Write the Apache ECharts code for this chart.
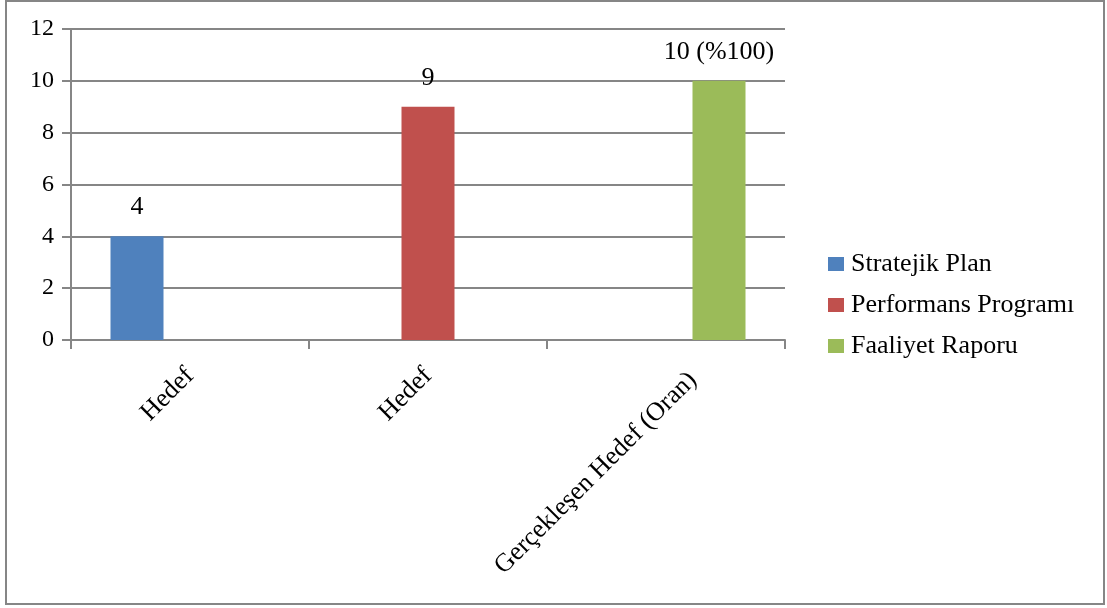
<!DOCTYPE html>
<html>
<head>
<meta charset="utf-8">
<script src="https://cdn.jsdelivr.net/npm/echarts@6/dist/echarts.min.js"></script>
<style>
  html, body { margin: 0; padding: 0; background: #fff; }
  #chart { width: 1107px; height: 608px; }
</style>
</head>
<body>
<div id="chart"></div>
<script>
// Categories along the x axis
const categories = ['Hedef', 'Hedef', 'Gerçekleşen Hedef (Oran)'];
// One value per series, placed in its own category
const seriesNames = ['Stratejik Plan', 'Performans Programı', 'Faaliyet Raporu'];
const stratejikPlan = [4, null, null];
const performansProgrami = [null, 9, null];
const faaliyetRaporu = [null, null, 10];
// Text shown above each bar
const barLabels = ['4', '9', '10 (%100)'];
const seriesColors = ['#4F81BD', '#C0504D', '#9BBB59'];

const FONT = '"Liberation Serif", "DejaVu Serif", serif';
const GRAY = '#868686';

// The long category name sits a little further along and below its slant
const labelPadding = [0, 0, [0, -16, 0, 0]];
const longLabelIndex = 2;

const chart = echarts.init(document.getElementById('chart'), null, { renderer: 'canvas' });

function barSeries(name, data, color, idx) {
  return {
    name: name,
    type: 'bar',
    data: data,
    barWidth: 53,
    barGap: '0%',
    itemStyle: { color: color },
    label: {
      show: true,
      position: 'top',
      distance: 16,
      color: '#000',
      fontFamily: FONT,
      fontSize: 26,
      formatter: () => barLabels[idx]
    }
  };
}

chart.setOption({
  animation: false,
  backgroundColor: '#fff',
  textStyle: { fontFamily: FONT },
  graphic: [{
    type: 'rect',
    shape: { x: 6, y: 1, width: 1098, height: 603 },
    style: { fill: 'none', stroke: GRAY, lineWidth: 2 },
    silent: true
  }],
  grid: { left: 71, right: 322, top: 29, bottom: 268 },
  legend: {
    orient: 'vertical',
    left: 823,
    top: 246,
    itemWidth: 16,
    itemHeight: 14,
    itemGap: 15,
    icon: 'rect',
    textStyle: { fontFamily: FONT, fontSize: 26, color: '#000', padding: [0, 0, 0, 2] },
    data: seriesNames
  },
  xAxis: {
    type: 'category',
    data: categories.map((c, i) => ({ value: c, textStyle: { padding: labelPadding[i] } })),
    axisLine: { lineStyle: { color: GRAY, width: 2 } },
    axisTick: { show: true, length: 9, lineStyle: { color: GRAY, width: 2 } },
    axisLabel: {
      rotate: 45,
      interval: 0,
      margin: 32,
      verticalAlign: 'top',
      lineHeight: 26,
      color: '#000',
      fontFamily: FONT,
      fontSize: 26,
      formatter: (v, i) => (i === longLabelIndex ? '{gap|}\n' + v : v),
      rich: { gap: { height: 44, lineHeight: 44 } }
    }
  },
  yAxis: {
    type: 'value',
    min: 0,
    max: 12,
    interval: 2,
    axisLine: { show: true, lineStyle: { color: GRAY, width: 2 } },
    axisTick: { show: true, length: 9, lineStyle: { color: GRAY, width: 2 } },
    splitLine: { lineStyle: { color: GRAY, width: 2 } },
    axisLabel: { margin: 17, color: '#000', fontFamily: FONT, fontSize: 24 }
  },
  series: [
    barSeries(seriesNames[0], stratejikPlan, seriesColors[0], 0),
    barSeries(seriesNames[1], performansProgrami, seriesColors[1], 1),
    barSeries(seriesNames[2], faaliyetRaporu, seriesColors[2], 2)
  ]
});
</script>
</body>
</html>
